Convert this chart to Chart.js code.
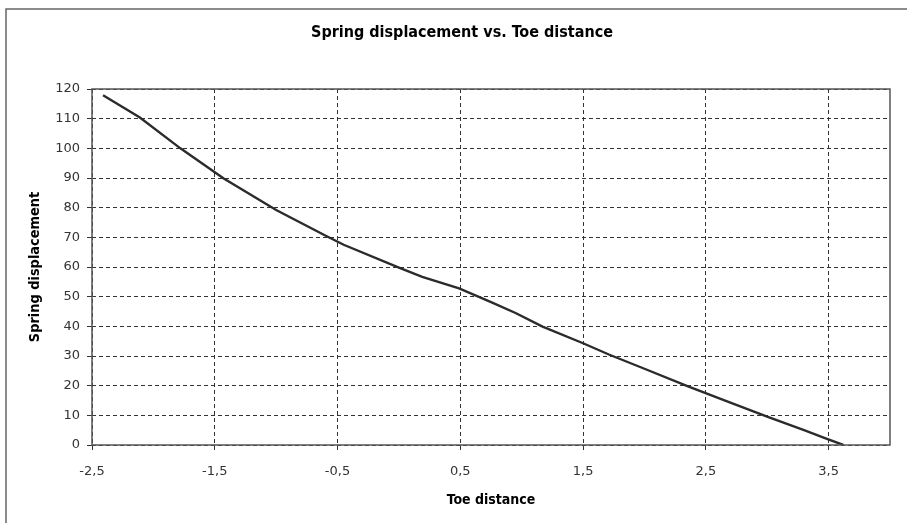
<!DOCTYPE html>
<html>
<head>
<meta charset="utf-8">
<script src="https://cdn.jsdelivr.net/npm/chart.js@4.4.1/dist/chart.umd.min.js"></script>
<style>
  html, body { margin: 0; padding: 0; background: #fff; }
  #wrap { width: 907px; height: 523px; }
</style>
</head>
<body>
<div id="wrap"><canvas id="chartSpring"></canvas></div>
<script>
// Toe distance (x) vs. spring displacement (y)
const toeDistance = [-2.41, -2.11, -1.78, -1.43, -1.0, -0.6, -0.45, 0.0, 0.19, 0.49, 0.76, 0.95, 1.17, 1.5, 1.71, 2.0, 2.36, 2.7, 3.01, 3.3, 3.47, 3.62];
const springDisp = [117.9, 110.4, 100.0, 89.9, 79.2, 70.6, 67.5, 59.8, 56.7, 52.8, 48.0, 44.5, 39.9, 34.3, 30.5, 25.7, 19.7, 14.3, 9.4, 5.0, 2.3, 0.0];
const xTicks = [-2.5, -1.5, -0.5, 0.5, 1.5, 2.5, 3.5];

const INK = "#333";
const FONT = "'DejaVu Sans', Verdana, sans-serif";
const TITLE_FONT = "'DejaVu Sans Condensed', 'DejaVu Sans', sans-serif";

Chart.defaults.font.family = FONT;
Chart.defaults.font.size = 13;
Chart.defaults.color = INK;

// plot frame + outer chart border; title centred over the whole sheet
const framePlugin = {
  id: "frame",
  afterLayout(chart) {
    const t = chart.titleBlock;
    if (t) { t.left = 34; t.right = 890; }
  },
  afterDraw(chart) {
    const { ctx, chartArea: a } = chart;
    ctx.save();
    ctx.strokeStyle = "#555";
    ctx.lineWidth = 1.5;
    ctx.strokeRect(a.left, a.top, a.right - a.left, a.bottom - a.top);
    ctx.strokeStyle = "#666";
    ctx.beginPath();
    ctx.moveTo(6, chart.height);
    ctx.lineTo(6, 9);
    ctx.lineTo(chart.width, 9);
    ctx.stroke();
    ctx.restore();
  },
};

const gridOpts = {
  color: INK,
  lineWidth: 1,
  tickLength: 5,
  tickColor: INK,
  tickWidth: 1,
  tickBorderDash: [],
};

new Chart(document.getElementById("chartSpring"), {
  type: "scatter",
  data: {
    datasets: [
      {
        data: toeDistance.map((x, i) => ({ x, y: springDisp[i] })),
        showLine: true,
        borderColor: "#2b2b2b",
        borderWidth: 2.4,
        pointRadius: 0,
        tension: 0,
      },
    ],
  },
  options: {
    responsive: true,
    maintainAspectRatio: false,
    animation: false,
    layout: { padding: { left: 0, right: 17, top: 0, bottom: 0 } },
    plugins: {
      legend: { display: false },
      tooltip: { enabled: false },
      title: {
        display: true,
        text: "Spring displacement vs. Toe distance",
        color: "#000",
        font: { family: TITLE_FONT, size: 16, weight: "bold", lineHeight: 1.2 },
        padding: { top: 23.5, bottom: 46.3 },
      },
    },
    scales: {
      x: {
        type: "linear",
        min: -2.5,
        max: 4,
        afterBuildTicks: (s) => { s.ticks = xTicks.map((v) => ({ value: v })); },
        afterFit: (s) => { s.height = 78; },
        ticks: {
          padding: 14,
          callback: (v) => String(v).replace(".", ","),
        },
        grid: gridOpts,
        border: { display: false, dash: [4, 3] },
        title: {
          display: true,
          text: "Toe distance",
          color: "#000",
          font: { family: TITLE_FONT, size: 14, weight: "bold", lineHeight: 1.2 },
          padding: { top: 0, bottom: 14.1 },
        },
      },
      y: {
        min: 0,
        max: 120,
        afterFit: (s) => { s.width = 92; },
        ticks: { stepSize: 10, padding: 7 },
        grid: gridOpts,
        border: { display: false, dash: [4, 3] },
        title: {
          display: true,
          text: "Spring displacement",
          color: "#000",
          font: { family: TITLE_FONT, size: 14.4, weight: "bold", lineHeight: 1.2 },
          padding: { top: 26.4, bottom: 0 },
        },
      },
    },
  },
  plugins: [framePlugin],
});
</script>
</body>
</html>
